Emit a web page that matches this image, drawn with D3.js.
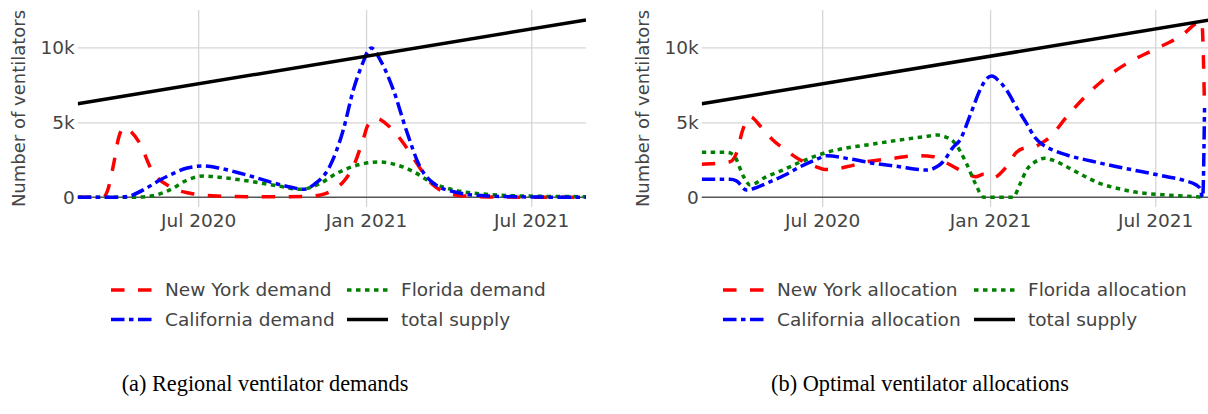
<!DOCTYPE html>
<html>
<head>
<meta charset="utf-8">
<script src="https://cdn.jsdelivr.net/npm/d3@7"></script>
<style>
  body { margin: 0; background: #fff; }
  svg { display: block; }
</style>
</head>
<body>
<svg id="chart" width="1208" height="414"></svg>
<script>
// ---- data ----
const startDate = "2020-02-20";
const endDate = "2021-08-30";

const supplyDates = ["2020-02-20", "2021-08-30"];
const supplyValues = [6240, 11820];

// (a) demands
const nyDemandDates = ["2020-02-20","2020-03-19","2020-03-24","2020-03-30","2020-04-05","2020-04-11","2020-04-18","2020-04-28","2020-05-11","2020-05-31","2020-06-22","2020-07-21","2020-09-07","2020-10-27","2020-11-12","2020-11-26","2020-12-08","2020-12-18","2020-12-29","2021-01-03","2021-01-13","2021-01-23","2021-02-02","2021-02-11","2021-02-22","2021-03-05","2021-03-14","2021-03-23","2021-04-05","2021-04-20","2021-05-15","2021-08-30"];
const nyDemand = [0,0,500,2100,4000,4650,4400,3600,1820,700,270,90,30,50,150,490,1100,2040,3900,4800,5250,4900,4300,3600,2600,1600,900,490,200,80,20,0];

const caDemandDates = ["2020-02-20","2020-04-05","2020-04-20","2020-05-05","2020-05-20","2020-06-04","2020-06-19","2020-07-07","2020-07-24","2020-08-13","2020-08-30","2020-09-22","2020-10-12","2020-10-24","2020-11-06","2020-11-22","2020-12-07","2020-12-18","2020-12-30","2021-01-03","2021-01-07","2021-01-17","2021-01-31","2021-02-14","2021-03-01","2021-03-16","2021-04-07","2021-05-13","2021-07-04","2021-08-30"];
const caDemand = [0,0,150,600,1150,1600,1950,2090,1950,1650,1370,950,650,530,900,2040,4490,7150,9200,9750,9950,9100,7150,4490,2040,930,370,90,20,0];

const flDemandDates = ["2020-02-20","2020-04-20","2020-05-10","2020-05-31","2020-06-19","2020-07-07","2020-07-29","2020-08-30","2020-09-27","2020-10-21","2020-11-11","2020-11-30","2020-12-26","2021-01-16","2021-02-04","2021-02-22","2021-03-12","2021-04-07","2021-05-13","2021-06-19","2021-08-30"];
const flDemand = [0,0,80,490,1150,1420,1300,1040,750,530,900,1600,2200,2350,2150,1710,1040,490,200,90,40];

// (b) allocations
const nyAllocDates = ["2020-02-20","2020-03-22","2020-03-29","2020-04-05","2020-04-13","2020-04-25","2020-05-08","2020-05-23","2020-06-07","2020-06-24","2020-07-04","2020-07-13","2020-07-29","2020-08-19","2020-09-17","2020-10-13","2020-10-31","2020-11-11","2020-11-22","2020-12-06","2020-12-16","2020-12-25","2021-01-03","2021-01-19","2021-01-30","2021-02-06","2021-02-17","2021-02-26","2021-03-08","2021-03-26","2021-04-15","2021-05-05","2021-05-31","2021-06-29","2021-07-28","2021-08-21","2021-08-24"];
const nyAlloc = [2200,2370,2930,4500,5370,4700,3820,3100,2490,2050,1850,1870,2050,2370,2600,2770,2710,2400,2040,1600,1370,1530,1270,2040,3000,3250,3330,3600,4040,5370,6700,7820,8930,9820,10710,11710,5950];

const caAllocDates = ["2020-02-20","2020-03-22","2020-03-29","2020-04-09","2020-04-20","2020-05-01","2020-05-20","2020-06-07","2020-06-24","2020-07-06","2020-08-01","2020-08-28","2020-09-24","2020-10-12","2020-10-24","2020-11-04","2020-11-11","2020-11-21","2020-11-29","2020-12-11","2020-12-21","2020-12-28","2021-01-03","2021-01-10","2021-01-19","2021-01-30","2021-02-10","2021-02-19","2021-02-28","2021-03-13","2021-03-26","2021-04-23","2021-05-20","2021-06-17","2021-07-14","2021-08-03","2021-08-15","2021-08-19","2021-08-22","2021-08-24"];
const caAlloc = [1200,1200,1100,490,650,930,1450,2040,2500,2770,2550,2250,2040,1870,1820,2050,2400,3300,3820,5600,7150,7900,8080,7800,7150,6000,4930,4000,3490,3100,2820,2400,2040,1700,1370,1100,820,600,0,5950];

const flAllocDates = ["2020-02-20","2020-03-18","2020-03-26","2020-04-06","2020-04-13","2020-04-30","2020-05-19","2020-06-09","2020-07-06","2020-07-29","2020-08-19","2020-09-24","2020-10-22","2020-11-04","2020-11-14","2020-11-22","2020-12-06","2020-12-16","2020-12-25","2021-01-26","2021-02-03","2021-02-10","2021-02-19","2021-03-02","2021-03-12","2021-03-26","2021-04-13","2021-05-01","2021-05-20","2021-06-07","2021-07-14","2021-08-15","2021-08-24"];
const flAlloc = [3000,3000,2820,1370,820,1350,1820,2400,3000,3300,3490,3820,4050,4150,4000,3710,2270,900,0,0,900,1820,2350,2600,2450,2040,1450,930,600,370,150,40,0];

const xTickDates = ["2020-07-01", "2021-01-01", "2021-07-01"];
const xTickLabels = ["Jul 2020", "Jan 2021", "Jul 2021"];
const yTickValues = [0, 5000, 10000];
const yTickLabels = ["0", "5k", "10k"];
const yTitle = "Number of ventilators";

const demandNames = ["New York demand", "Florida demand", "California demand", "total supply"];
const allocNames = ["New York allocation", "Florida allocation", "California allocation", "total supply"];
const captions = ["(a) Regional ventilator demands", "(b) Optimal ventilator allocations"];

// ---- drawing ----
const parse = d3.timeParse("%Y-%m-%d");
const svg = d3.select("#chart");
const font = "'DejaVu Sans', Verdana, sans-serif";
const fontSize = 18.5;
const textColor = "#444";

// styles per series: red dash, green dot, blue dashdot, black solid
const styles = {
  ny: {color: "red", dash: "13.5,13.5"},
  fl: {color: "green", dash: "4.5,4.5"},
  ca: {color: "blue", dash: "13.5,4.5,4.5,4.5"},
  supply: {color: "black", dash: null}
};

function toPoints(dates, values) {
  return dates.map((d, i) => ({date: parse(d), value: values[i]}));
}

function drawPanel(left, series, names, caption, captionX, legendX) {
  const top = 10, bottom = 207, width = 508.3;
  const x = d3.scaleTime()
    .domain([parse(startDate), parse(endDate)])
    .range([left, left + width]);
  const y = d3.scaleLinear()
    .domain([-647, 12487])
    .range([bottom, top]);

  const g = svg.append("g");

  // vertical grid
  g.append("g")
    .attr("transform", "translate(0," + bottom + ")")
    .call(d3.axisBottom(x).tickValues(xTickDates.map(parse)).tickSize(-(bottom - top)).tickFormat(""))
    .call(a => a.select(".domain").remove())
    .selectAll("line").attr("stroke", "#d6d6d6").attr("stroke-width", 1.3);

  // horizontal grid (not zero)
  g.append("g")
    .attr("transform", "translate(" + left + ",0)")
    .call(d3.axisLeft(y).tickValues(yTickValues.filter(v => v !== 0)).tickSize(-width).tickFormat(""))
    .call(a => a.select(".domain").remove())
    .selectAll("line").attr("stroke", "#d6d6d6").attr("stroke-width", 1.3);

  // zero line
  g.append("line")
    .attr("x1", x.range()[0]).attr("x2", x.range()[1])
    .attr("y1", y(0)).attr("y2", y(0))
    .attr("stroke", "#555").attr("stroke-width", 1.5);

  // x tick labels
  g.append("g")
    .attr("transform", "translate(0," + bottom + ")")
    .call(d3.axisBottom(x).tickValues(xTickDates.map(parse)).tickSize(0).tickPadding(7)
      .tickFormat((d, i) => xTickLabels[i]))
    .call(a => a.select(".domain").remove())
    .selectAll("text")
    .attr("font-family", font).attr("font-size", fontSize).attr("fill", textColor);

  // y tick labels
  g.append("g")
    .attr("transform", "translate(" + left + ",0)")
    .call(d3.axisLeft(y).tickValues(yTickValues).tickSize(0).tickPadding(3)
      .tickFormat((d, i) => yTickLabels[i]))
    .call(a => a.select(".domain").remove())
    .selectAll("text")
    .attr("font-family", font).attr("font-size", fontSize).attr("fill", textColor);

  // y title
  g.append("text")
    .attr("transform", "translate(" + (left - 58.7) + "," + ((top + bottom) / 2) + ") rotate(-90)")
    .attr("text-anchor", "middle")
    .attr("dy", "0.35em")
    .attr("font-family", font).attr("font-size", 18).attr("fill", textColor)
    .text(yTitle);

  // lines
  const line = d3.line()
    .x(d => x(d.date))
    .y(d => y(d.value))
    .curve(d3.curveMonotoneX);

  const clipId = "clip" + Math.round(left);
  g.append("clipPath").attr("id", clipId)
    .append("rect").attr("x", left).attr("y", top).attr("width", width).attr("height", bottom - top);

  series.forEach(s => {
    g.append("path")
      .datum(s.points)
      .attr("clip-path", "url(#" + clipId + ")")
      .attr("fill", "none")
      .attr("stroke", s.style.color)
      .attr("stroke-width", 3.5)
      .attr("stroke-dasharray", s.style.dash)
      .attr("d", line);
  });

  // legend: two columns, two rows (NY, FL / CA, supply)
  const legendStyles = [styles.ny, styles.fl, styles.ca, styles.supply];
  const rowY = [290, 319.5];
  legendStyles.forEach((st, i) => {
    const cx = legendX[i % 2];
    const cy = rowY[Math.floor(i / 2)];
    const item = g.append("g");
    item.append("line")
      .attr("x1", cx).attr("x2", cx + 41)
      .attr("y1", cy).attr("y2", cy)
      .attr("stroke", st.color).attr("stroke-width", 3.5)
      .attr("stroke-dasharray", st.dash);
    item.append("text")
      .attr("x", cx + 54).attr("y", cy)
      .attr("dy", "0.35em")
      .attr("font-family", font).attr("font-size", fontSize).attr("fill", textColor)
      .text(names[i]);
  });

  // caption
  svg.append("text")
    .attr("x", captionX).attr("y", 391)
    .attr("text-anchor", "middle")
    .attr("font-family", "'Liberation Serif', 'Times New Roman', serif")
    .attr("font-size", 22.3)
    .attr("fill", "#000")
    .text(caption);
}

const supply = {points: toPoints(supplyDates, supplyValues), style: styles.supply};

drawPanel(77.7, [
  {points: toPoints(nyDemandDates, nyDemand), style: styles.ny},
  {points: toPoints(flDemandDates, flDemand), style: styles.fl},
  {points: toPoints(caDemandDates, caDemand), style: styles.ca},
  supply
], demandNames, captions[0], 265, [111, 347]);

drawPanel(701.7, [
  {points: toPoints(nyAllocDates, nyAlloc), style: styles.ny},
  {points: toPoints(flAllocDates, flAlloc), style: styles.fl},
  {points: toPoints(caAllocDates, caAlloc), style: styles.ca},
  supply
], allocNames, captions[1], 920, [723, 974]);
</script>
</body>
</html>
